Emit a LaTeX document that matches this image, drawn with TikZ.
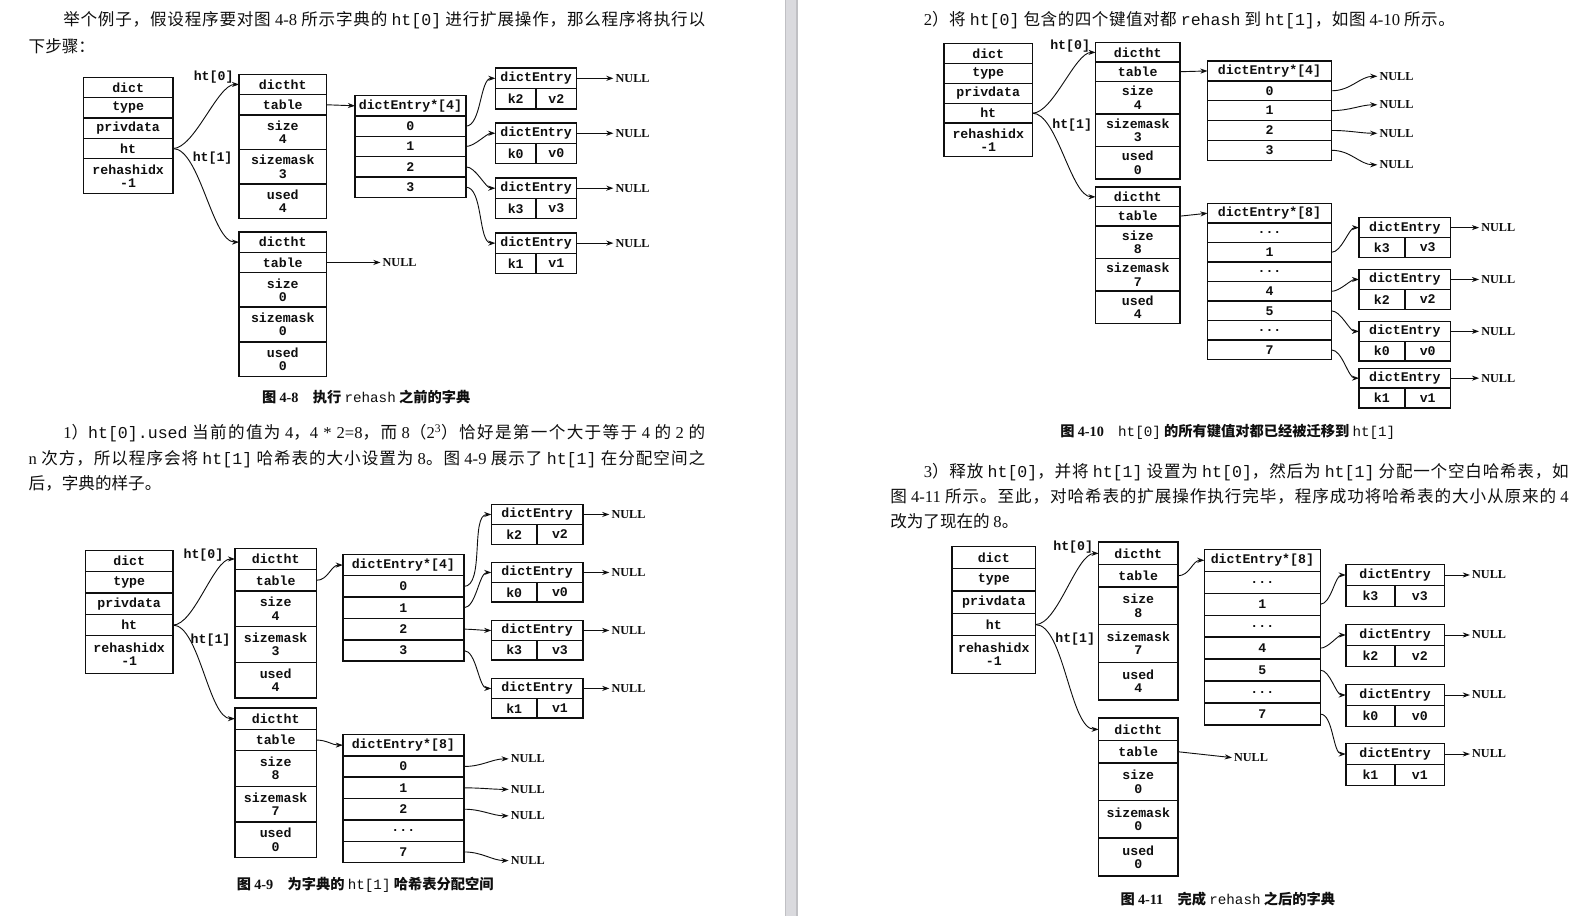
\documentclass[tikz,border=0pt]{standalone}
\usepackage{fontspec}
\setmainfont{Liberation Serif}
\setmonofont{Liberation Mono}
\newfontfamily\cjk{Noto Sans CJK SC}
\usetikzlibrary{positioning, arrows.meta}
% stretchable glue between CJK characters, for justified lines
\newXeTeXintercharclass\cjkcls
\count255="4E00
\loop
  \XeTeXcharclass\count255=\cjkcls
  \advance\count255 by 1
\ifnum\count255<"A000 \repeat
\XeTeXcharclass"3002=\cjkcls
\XeTeXcharclass"FF08=\cjkcls
\XeTeXcharclass"FF09=\cjkcls
\XeTeXcharclass"FF0C=\cjkcls
\XeTeXcharclass"FF1A=\cjkcls
\XeTeXinterchartokenstate=1
\XeTeXinterchartoks\cjkcls\cjkcls={\hskip 0pt plus 3pt\relax}
\definecolor{inkcol}{RGB}{15, 15, 15}
\definecolor{barcol}{RGB}{218, 218, 222}
\definecolor{baredge}{RGB}{192, 192, 196}
\newcommand{\code}[1]{{\ttfamily\mdseries #1}}
\newcommand{\num}[1]{{\rmfamily #1}}
\newcommand{\skipdots}{{\ttfamily ...}}
\tikzset{
  cell/.style={draw=inkcol, line width=1.4pt, inner sep=0pt, outer sep=0pt,
               anchor=north west, align=center, text=inkcol,
               font=\ttfamily\bfseries\fontsize{13}{13}\selectfont},
  ptr/.style={-{Stealth[length=7pt, width=5pt]}, line width=0.9pt, draw=inkcol},
  nullptr/.style={ptr, shorten >=2pt},
  nulltxt/.style={anchor=west, inner sep=0pt, text=inkcol,
                  font=\rmfamily\bfseries\fontsize{12}{12}\selectfont},
  htlabel/.style={inner sep=0pt, text=inkcol, font=\ttfamily\bfseries\fontsize{13}{13}\selectfont},
  para/.style={anchor=west, inner sep=0pt, text=inkcol,
               font=\cjk\fontsize{16.3}{16.3}\selectfont},
  caption/.style={inner sep=0pt, text=inkcol, font=\cjk\bfseries\fontsize{14}{14}\selectfont},
}
% dict: name, x, y, width, row, last row
\newcommand{\dictbox}[6]{%
  \foreach \lab/\nm [count=\i from 0] in {dict/dict, type/type, privdata/priv, ht/ht}
    \node[cell, minimum width=#4, minimum height=#5] (#1-\nm) at (#2,#3+#5*\i) {\lab};
  \node[cell, minimum width=#4, minimum height=#6] (#1-idx) at (#2,#3+4*#5) {rehashidx\\-1};
}
% dictht: name, x, y, width, row, tall row, size, sizemask, used
\newcommand{\htbox}[9]{%
  \node[cell, minimum width=#4, minimum height=#5] (#1-head) at (#2,#3) {dictht};
  \node[cell, minimum width=#4, minimum height=#5, below=0pt of #1-head] (#1-table) {table};
  \node[cell, minimum width=#4, minimum height=#6, below=0pt of #1-table] (#1-size) {size\\#7};
  \node[cell, minimum width=#4, minimum height=#6, below=0pt of #1-size] (#1-mask) {sizemask\\#8};
  \node[cell, minimum width=#4, minimum height=#6, below=0pt of #1-mask] (#1-used) {used\\#9};
}
% table array: name, x, y, width, row, header, slots
\newcommand{\slotbox}[7]{%
  \node[cell, minimum width=#4, minimum height=#5] (#1-head) at (#2,#3) {#6};
  \foreach \lab [count=\i from 0] in {#7}
    \node[cell, minimum width=#4, minimum height=#5] (#1-\i) at (#2,#3+#5+#5*\i) {\lab};
}
% dictEntry: name, x, y, width, row, key, value
\newcommand{\entrybox}[7]{%
  \node[cell, minimum width=#4, minimum height=#5] (#1) at (#2,#3) {dictEntry};
  \node[cell, minimum width=#4/2, minimum height=#5] (#1-k) at (#1.south west) {#6};
  \node[cell, minimum width=#4/2, minimum height=#5] (#1-v) at (#1-k.north east) {#7};
}

\begin{document}
\begin{tikzpicture}[x=1pt, y=-1pt]
  \useasboundingbox (0,0) rectangle (1568,900);
  \fill[white] (0,0) rectangle (1568,900);
  \fill[barcol] (772,0) rectangle (784,900);
  \draw[baredge, line width=1pt] (772.5,0) -- (772.5,900) (783.5,0) -- (783.5,900);

  % left page text
  \node[para] (t1a) at (62,20) {\hbox to 631pt{举个例子，假设程序要对图 \num{4-8} 所示字典的 \code{ht[0]} 进行扩展操作，那么程序将执行以}};
  \node[para] (t1b) at (28,45) {下步骤：};
  \node[caption] (c48) at (360,390) {图 \num{4-8}\quad 执行 \code{rehash} 之前的字典};
  \node[para] (t2a) at (62,426) {\hbox to 631pt{\num{1}）\code{ht[0].used} 当前的值为 \num{4}，\num{4 * 2=8}，而 \num{8}（\num{2\textsuperscript{3}}）恰好是第一个大于等于 \num{4} 的 \num{2} 的}};
  \node[para] (t2b) at (28,451) {\hbox to 665pt{\num{n} 次方，所以程序会将 \code{ht[1]} 哈希表的大小设置为 \num{8}。图 \num{4-9} 展示了 \code{ht[1]} 在分配空间之}};
  \node[para] (t2c) at (28,475) {后，字典的样子。};
  \node[caption] (c49) at (359,870) {图 \num{4-9}\quad 为字典的 \code{ht[1]} 哈希表分配空间};

  % right page text
  \node[para] (t3a) at (908,20) {\hbox to 522pt{\num{2}）将 \code{ht[0]} 包含的四个键值对都 \code{rehash} 到 \code{ht[1]}，如图 \num{4-10} 所示。}};
  \node[caption] (c410) at (1207,425) {图 \num{4-10}\quad \code{ht[0]} 的所有键值对都已经被迁移到 \code{ht[1]}};
  \node[para] (t4a) at (908,464) {\hbox to 634pt{\num{3}）释放 \code{ht[0]}，并将 \code{ht[1]} 设置为 \code{ht[0]}，然后为 \code{ht[1]} 分配一个空白哈希表，如}};
  \node[para] (t4b) at (875,488) {\hbox to 667pt{图 \num{4-11} 所示。至此，对哈希表的扩展操作执行完毕，程序成功将哈希表的大小从原来的 \num{4}}};
  \node[para] (t4c) at (875,512) {改为了现在的 \num{8}。};
  \node[caption] (c411) at (1207,884) {图 \num{4-11}\quad 完成 \code{rehash} 之后的字典};

  % figure 4-8
  \dictbox{Ad}{82}{76}{88}{20}{34}
  \htbox{Aa}{235}{73}{86}{20}{34}{4}{3}{4}
  \htbox{Ab}{235}{228}{86}{20}{34}{0}{0}{0}
  \slotbox{As}{349}{94}{109}{20}{dictEntry*[4]}{0,1,2,3}
  \entrybox{Ae1}{487}{67}{80}{20}{k2}{v2}
  \entrybox{Ae2}{487}{121}{80}{20}{k0}{v0}
  \entrybox{Ae3}{487}{175}{80}{20}{k3}{v3}
  \entrybox{Ae4}{487}{229}{80}{20}{k1}{v1}
  \node[htlabel] (Ah0) at (210,76) {ht[0]};
  \node[htlabel] (Ah1) at (209,155) {ht[1]};
  \node[nulltxt, right=55pt of Ab-table] (Abn) {NULL};
  \draw[ptr] (Ad-ht.east) to[out=0, in=180, looseness=0.6] (Aa-head.west);
  \draw[ptr] (Ad-ht.east) to[out=0, in=180, looseness=0.6] (Ab-head.west);
  \draw[ptr] (Aa-table.east) -- (As-head.west);
  \draw[nullptr] (Ab-table.east) -- (Abn.west);
  \foreach \s/\e in {0/1, 1/2, 2/3, 3/4} {
    \draw[ptr] (As-\s.east) to[out=0, in=180, looseness=0.7] (Ae\e.west);
    \node[nulltxt, right=38pt of Ae\e] (An\e) {NULL};
    \draw[nullptr] (Ae\e.east) -- (An\e.west);
  }

  % figure 4-9
  \dictbox{Bd}{84}{541}{86}{21}{37}
  \htbox{Ba}{231}{539}{80}{21}{35}{4}{3}{4}
  \htbox{Bb}{231}{696}{80}{21}{35}{8}{7}{0}
  \slotbox{Bs}{337}{545}{119}{21}{dictEntry*[4]}{0,1,2,3}
  \slotbox{Bt}{337}{722}{119}{21}{dictEntry*[8]}{0,1,2,\skipdots,7}
  \entrybox{Be1}{483}{496}{90}{19.5}{k2}{v2}
  \entrybox{Be2}{483}{553}{90}{19.5}{k0}{v0}
  \entrybox{Be3}{483}{610}{90}{19.5}{k3}{v3}
  \entrybox{Be4}{483}{667}{90}{19.5}{k1}{v1}
  \node[htlabel] (Bh0) at (200,546) {ht[0]};
  \node[htlabel] (Bh1) at (207,629) {ht[1]};
  \draw[ptr] (Bd-ht.east) to[out=0, in=180, looseness=0.6] (Ba-head.west);
  \draw[ptr] (Bd-ht.east) to[out=0, in=180, looseness=0.6] (Bb-head.west);
  \draw[ptr] (Ba-table.east) to[out=0, in=180] (Bs-head.west);
  \draw[ptr] (Bb-table.east) to[out=0, in=180] (Bt-head.west);
  \foreach \s/\e in {0/1, 1/2, 2/3, 3/4} {
    \draw[ptr] (Bs-\s.east) to[out=0, in=180, looseness=0.7] (Be\e.west);
    \node[nulltxt, right=28pt of Be\e] (Bn\e) {NULL};
    \draw[nullptr] (Be\e.east) -- (Bn\e.west);
  }
  \foreach \s/\y in {0/746, 1/776, 2/802, 4/846} {
    \node[nulltxt] (Btn\s) at (502,\y) {NULL};
    \draw[nullptr] (Bt-\s.east) to[out=0, in=180] (Btn\s.west);
  }

  % figure 4-10
  \dictbox{Cd}{928}{43}{87}{19.5}{33}
  \htbox{Ca}{1077}{42}{83}{19}{32}{4}{3}{0}
  \htbox{Cb}{1077}{184}{83}{19}{32}{8}{7}{4}
  \slotbox{Cs}{1187}{60}{122}{19.5}{dictEntry*[4]}{0,1,2,3}
  \slotbox{Ct}{1187}{200}{122}{19.2}{dictEntry*[8]}{\skipdots,1,\skipdots,4,5,\skipdots,7}
  \entrybox{Ce1}{1336}{214}{90}{19.5}{k3}{v3}
  \entrybox{Ce2}{1336}{265}{90}{19.5}{k2}{v2}
  \entrybox{Ce3}{1336}{316}{90}{19.5}{k0}{v0}
  \entrybox{Ce4}{1336}{362}{90}{19.5}{k1}{v1}
  \node[htlabel] (Ch0) at (1052,45) {ht[0]};
  \node[htlabel] (Ch1) at (1054,123) {ht[1]};
  \draw[ptr] (Cd-ht.east) to[out=0, in=180, looseness=0.6] (Ca-head.west);
  \draw[ptr] (Cd-ht.east) to[out=0, in=180, looseness=0.6] (Cb-head.west);
  \draw[ptr] (Ca-table.east) -- (Cs-head.west);
  \draw[ptr] (Cb-table.east) -- (Ct-head.west);
  \foreach \s/\y in {0/75, 1/103, 2/131, 3/162} {
    \node[nulltxt] (Csn\s) at (1356,\y) {NULL};
    \draw[nullptr] (Cs-\s.east) to[out=0, in=180] (Csn\s.west);
  }
  \foreach \s/\e in {1/1, 3/2, 4/3, 6/4} {
    \draw[ptr] (Ct-\s.east) to[out=0, in=180, looseness=0.7] (Ce\e.west);
    \node[nulltxt, right=30pt of Ce\e] (Cn\e) {NULL};
    \draw[nullptr] (Ce\e.east) -- (Cn\e.west);
  }

  % figure 4-11
  \dictbox{Dd}{936}{537}{82}{22}{37}
  \htbox{Da}{1080}{533}{78}{22}{37}{8}{7}{4}
  \htbox{Db}{1080}{706}{78}{22}{37}{0}{0}{0}
  \slotbox{Ds}{1184}{540}{114}{21.6}{dictEntry*[8]}{\skipdots,1,\skipdots,4,5,\skipdots,7}
  \entrybox{De1}{1323}{555}{97}{20.5}{k3}{v3}
  \entrybox{De2}{1323}{614}{97}{20.5}{k2}{v2}
  \entrybox{De3}{1323}{673}{97}{20.5}{k0}{v0}
  \entrybox{De4}{1323}{731}{97}{20.5}{k1}{v1}
  \node[htlabel] (Dh0) at (1055,538) {ht[0]};
  \node[htlabel] (Dh1) at (1057,628) {ht[1]};
  \node[nulltxt] (Dbn) at (1213,745) {NULL};
  \draw[ptr] (Dd-ht.east) to[out=0, in=180, looseness=0.6] (Da-head.west);
  \draw[ptr] (Dd-ht.east) to[out=0, in=180, looseness=0.6] (Db-head.west);
  \draw[ptr] (Da-table.east) to[out=0, in=180] (Ds-head.west);
  \draw[nullptr] (Db-table.east) -- (Dbn.west);
  \foreach \s/\e in {1/1, 3/2, 4/3, 6/4} {
    \draw[ptr] (Ds-\s.east) to[out=0, in=180, looseness=0.7] (De\e.west);
    \node[nulltxt, right=27pt of De\e] (Dn\e) {NULL};
    \draw[nullptr] (De\e.east) -- (Dn\e.west);
  }
\end{tikzpicture}
\end{document}
